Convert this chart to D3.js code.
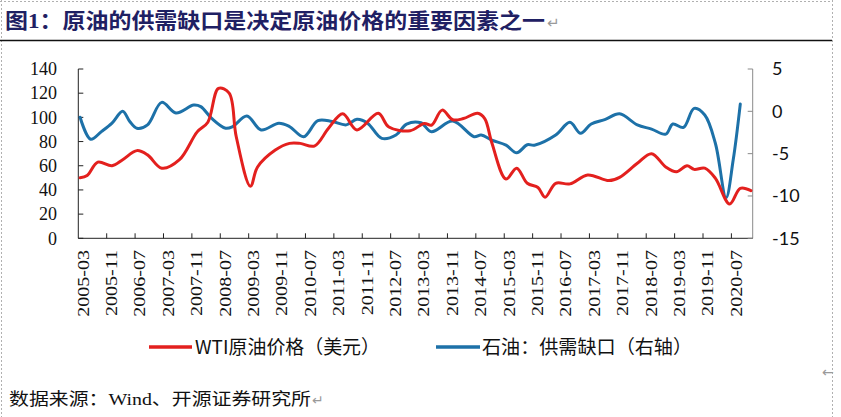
<!DOCTYPE html>
<html><head><meta charset="utf-8">
<script src="https://cdn.jsdelivr.net/npm/d3@7"></script>
<style>html,body{margin:0;padding:0;background:#fff;}svg{display:block;}</style>
</head><body>
<svg id="chart" width="841" height="417"></svg>
<script>
// ---- data ----
const startMonth = "2005-03";
const monthCount = 190; // 2005-03 .. 2020-12
const tickLabels = ["2005-03","2005-11","2006-07","2007-03","2007-11","2008-07","2009-03","2009-11","2010-07","2011-03","2011-11","2012-07","2013-03","2013-11","2014-07","2015-03","2015-11","2016-07","2017-03","2017-11","2018-07","2019-03","2019-11","2020-07"];
const leftTicks = [0,20,40,60,80,100,120,140];
const rightTicks = [-15,-10,-5,0,5];

const wtiDates = ["2005-03","2005-05","2005-08","2005-12","2006-03","2006-07","2006-10","2007-02","2007-07","2007-12","2008-03","2008-06","2008-09","2008-11","2009-03","2009-05","2009-10","2010-02","2010-05","2010-09","2011-01","2011-05","2011-09","2012-03","2012-06","2012-12","2013-04","2013-06","2013-09","2013-12","2014-03","2014-07","2014-09","2014-11","2015-03","2015-06","2015-09","2015-12","2016-02","2016-05","2016-09","2017-02","2017-08","2017-11","2018-04","2018-08","2018-12","2019-03","2019-06","2019-08","2019-11","2020-02","2020-06","2020-09","2020-12"];
const wtiValues = [50,52,63,60,65,72.5,69,58,65,88,96,124,120,84,43,59,73,78.5,78.5,76.3,91,103,89.6,103.4,92,89,95,93.5,106,98,99,103.4,99,79,49,58,45.5,42,34,45.5,45,52.4,47.7,50.4,62,70,59,55,60,57,58,49.6,28.4,41.3,39.4];

const gapDates = ["2005-03","2005-06","2005-09","2005-12","2006-03","2006-05","2006-07","2006-10","2007-02","2007-06","2007-11","2008-01","2008-04","2008-08","2008-10","2009-02","2009-06","2009-11","2010-02","2010-06","2010-10","2011-02","2011-06","2011-09","2011-12","2012-04","2012-08","2012-11","2013-03","2013-06","2013-12","2014-06","2014-08","2014-11","2015-03","2015-06","2015-09","2015-11","2016-05","2016-09","2016-12","2017-03","2017-07","2017-11","2018-04","2018-08","2018-12","2019-02","2019-05","2019-08","2019-11","2020-02","2020-05","2020-07","2020-09"];
const gapValues = [-0.7,-3.3,-2.4,-1.4,0,-1.2,-2.0,-1.6,1.06,-0.2,0.74,0.55,-0.8,-2.0,-1.8,-0.55,-2.2,-1.4,-1.8,-3.0,-1.1,-1.2,-1.6,-0.95,-1.4,-3.2,-2.8,-1.5,-1.35,-2.4,-1.15,-3.0,-2.8,-3.4,-4.0,-4.9,-3.95,-4.0,-2.8,-1.3,-2.6,-1.5,-0.95,-0.3,-1.6,-2.1,-2.7,-1.5,-1.9,0.35,-0.44,-3.8,-10.2,-5.75,0.86];

const titleText = "图1：原油的供需缺口是决定原油价格的重要因素之一";
const sourceText = "数据来源：Wind、开源证券研究所";
const seriesNames = ["WTI原油价格（美元）","石油：供需缺口（右轴）"];
const colors = {wti:"#E3201E", gap:"#1D71A8"};

// ---- drawing ----
const svg = d3.select("#chart");
const monthIndex = s => { const [y,m] = s.split("-").map(Number); const [y0,m0] = startMonth.split("-").map(Number); return (y-y0)*12 + (m-m0); };

const x = d3.scaleLinear().domain([0, monthCount]).range([78.3, 752.7]);
const yL = d3.scaleLinear().domain([0,140]).range([238.3, 69]);
const yR = d3.scaleLinear().domain([-15,5]).range([238.3, 69]);

// page decorations
const dot = "#b0b0b0";
svg.append("line").attr("x1",0).attr("x2",833).attr("y1",1.5).attr("y2",1.5).attr("stroke",dot).attr("stroke-dasharray","2,2");
svg.append("line").attr("x1",1.5).attr("x2",1.5).attr("y1",0).attr("y2",417).attr("stroke",dot).attr("stroke-dasharray","2,2");
svg.append("line").attr("x1",832.5).attr("x2",832.5).attr("y1",0).attr("y2",417).attr("stroke",dot).attr("stroke-dasharray","2,2");
svg.append("line").attr("x1",0).attr("x2",832).attr("y1",40.5).attr("y2",40.5).attr("stroke","#111").attr("stroke-width",1.5);

svg.append("text").attr("x",5).attr("y",28)
  .attr("font-family","'Liberation Serif','Noto Sans CJK SC',serif").attr("font-weight","bold")
  .attr("font-size",21).attr("fill","#1F2063")
  .attr("textLength",540).attr("lengthAdjust","spacingAndGlyphs").text(titleText);
svg.append("text").attr("x",547).attr("y",28).attr("font-size",15).attr("fill","#9a9a9a").attr("font-family","DejaVu Sans").text("↵");

// axes
const axisG = svg.append("g");
axisG.append("line").attr("x1",x(0)).attr("x2",x(0)).attr("y1",yL(140)).attr("y2",yL(0)).attr("stroke","#222").attr("stroke-width",1);
axisG.append("line").attr("x1",x(monthCount)).attr("x2",x(monthCount)).attr("y1",yR(5)).attr("y2",yR(-15)).attr("stroke","#8a8a8a").attr("stroke-width",1);
axisG.append("line").attr("x1",x(0)).attr("x2",x(monthCount)).attr("y1",yL(0)).attr("y2",yL(0)).attr("stroke","#222").attr("stroke-width",1);

leftTicks.forEach(v => {
  axisG.append("line").attr("x1",x(0)).attr("x2",x(0)+5).attr("y1",yL(v)).attr("y2",yL(v)).attr("stroke","#222");
  axisG.append("text").attr("x",57).attr("y",yL(v)).attr("dy","0.35em").attr("text-anchor","end")
    .attr("font-family","'Liberation Serif',serif").attr("font-size",18).attr("fill","#111").text(v);
});
rightTicks.forEach(v => {
  axisG.append("line").attr("x1",x(monthCount)).attr("x2",x(monthCount)-5).attr("y1",yR(v)).attr("y2",yR(v)).attr("stroke","#8a8a8a");
  axisG.append("text").attr("x",772).attr("y",yR(v)).attr("dy","0.36em").attr("text-anchor","start")
    .attr("font-family","Lato,'Open Sans',sans-serif").attr("font-size",18).attr("fill","#111").text(v);
});
tickLabels.forEach((lab,k) => {
  const tx = x(8*k);
  if (k>0) axisG.append("line").attr("x1",tx).attr("x2",tx).attr("y1",yL(0)).attr("y2",yL(0)-5).attr("stroke","#222");
  axisG.append("text").attr("transform",`translate(${tx+5},250) rotate(-90) scale(1.25,1)`)
    .attr("text-anchor","end").attr("dominant-baseline","central")
    .attr("font-family","'Liberation Serif',serif").attr("font-size",16).attr("fill","#111").text(lab);
});

// lines
const wti = wtiDates.map((d,i)=>({i:monthIndex(d), v:wtiValues[i]}));
const gap = gapDates.map((d,i)=>({i:monthIndex(d), v:gapValues[i]}));
const lineL = d3.line().x(d=>x(d.i+0.5)).y(d=>yL(d.v)).curve(d3.curveCatmullRom.alpha(0.5));
const lineR = d3.line().x(d=>x(d.i+0.5)).y(d=>yR(d.v)).curve(d3.curveCatmullRom.alpha(0.5));
svg.append("path").datum(gap).attr("d",lineR).attr("fill","none").attr("stroke",colors.gap).attr("stroke-width",3).attr("stroke-linejoin","round").attr("stroke-linecap","round");
svg.append("path").datum(wti).attr("d",lineL).attr("fill","none").attr("stroke",colors.wti).attr("stroke-width",3).attr("stroke-linejoin","round").attr("stroke-linecap","round");

// legend
const leg = [{c:colors.wti,x1:149,x2:192,tx:195,w:185,t:seriesNames[0]},{c:colors.gap,x1:436,x2:480,tx:482,w:210,t:seriesNames[1]}];
leg.forEach(l => {
  svg.append("line").attr("x1",l.x1).attr("x2",l.x2).attr("y1",347).attr("y2",347).attr("stroke",l.c).attr("stroke-width",3.5);
  svg.append("text").attr("x",l.tx).attr("y",347).attr("dy","0.36em")
    .attr("font-family","'Noto Sans CJK SC',sans-serif").attr("font-size",19).attr("fill","#111")
    .attr("textLength",l.w).attr("lengthAdjust","spacingAndGlyphs").text(l.t);
});

// footer
svg.append("text").attr("x",9).attr("y",405)
  .attr("font-family","'Liberation Serif','Noto Sans CJK SC',serif").attr("font-size",17).attr("fill","#111")
  .attr("textLength",302).attr("lengthAdjust","spacingAndGlyphs").text(sourceText);
svg.append("text").attr("x",312).attr("y",405).attr("font-size",14).attr("fill","#9a9a9a").attr("font-family","DejaVu Sans").text("↵");
svg.append("text").attr("x",822).attr("y",377).attr("font-size",14).attr("fill","#9a9a9a").attr("font-family","DejaVu Sans").text("←");
</script>
</body></html>
